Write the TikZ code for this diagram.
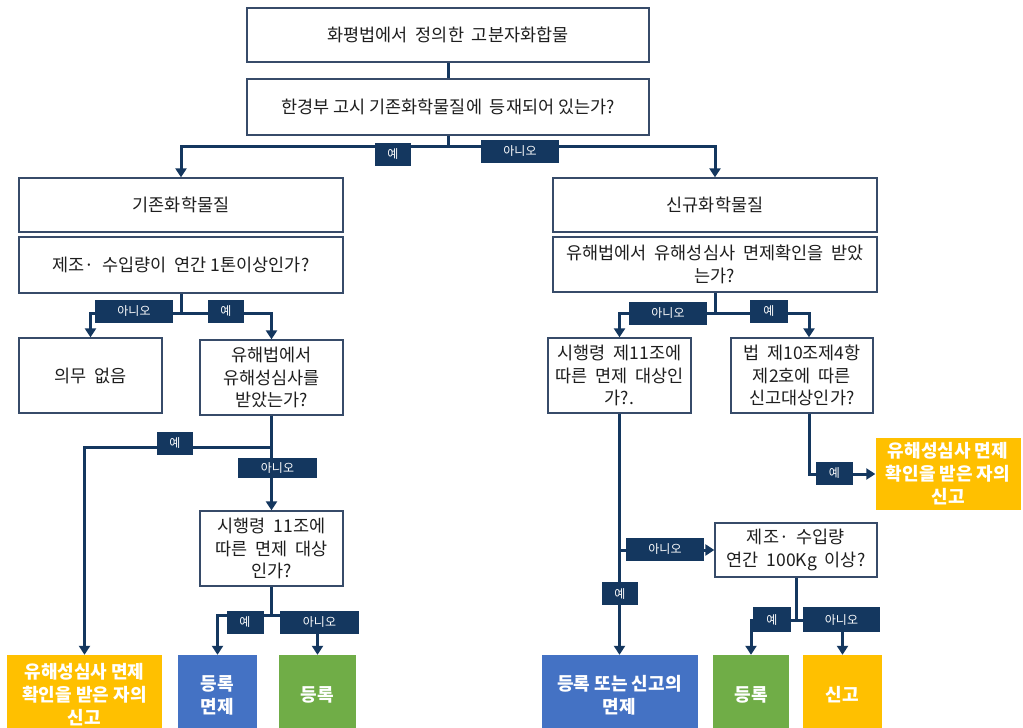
\documentclass[tikz,border=0pt]{standalone}
\usepackage{fontspec}
\setmainfont{Noto Sans CJK KR}
\usetikzlibrary{arrows.meta}
\definecolor{navy}{RGB}{20,55,95}
\definecolor{bordc}{RGB}{55,75,105}
\definecolor{txtc}{RGB}{30,30,30}
\definecolor{byel}{RGB}{255,192,0}
\definecolor{bblue}{RGB}{68,114,196}
\definecolor{bgreen}{RGB}{112,173,71}
\begin{document}
\begin{tikzpicture}[x=1pt,y=-1pt,
 wbox/.style={draw=bordc,line width=1.3pt,fill=white,text=txtc,font=\fontsize{17.5}{22.5}\selectfont,align=center,inner sep=0pt},
 cbox/.style={fill=#1,text=white,font=\bfseries\fontsize{18}{23}\selectfont,align=center,inner sep=0pt},
 lab/.style={fill=navy,text=white,font=\fontsize{12}{12}\selectfont,inner sep=0pt,minimum height=23pt},
 conn/.style={draw=navy,line width=3pt},
 arr/.style={conn,-{Triangle[width=11pt,length=9pt]}},
]
\useasboundingbox (0,0) rectangle (1023,728);
\clip (0,0) rectangle (1023,728);
\fill[white] (0,0) rectangle (1023,728);

% white boxes
\node[wbox,minimum width=402pt,minimum height=54pt] (top) at (448,35) {화평법에서 \ 정의한 \ 고분자화합물};
\node[wbox,minimum width=402pt,minimum height=56pt] (q1) at (448,107) {한경부 고시 기존화학물질에 \ 등재되어 있는가?};
\node[wbox,minimum width=324pt,minimum height=54pt] (exist) at (181,205) {기존화학물질};
\node[wbox,minimum width=324pt,minimum height=56pt] (q2) at (181,265) {제조· \ 수입량이 \ 연간 1톤이상인가?};
\node[wbox,minimum width=143pt,minimum height=75pt] (none) at (90.5,375.5) {의무 \ 없음};
\node[wbox,minimum width=143pt,minimum height=75pt] (q3) at (271.5,377.5) {유해법에서\\유해성심사를\\받았는가?};
\node[wbox,minimum width=143pt,minimum height=75pt] (q4) at (271.5,548.5) {시행령 \ 11조에\\따른 \ 면제 \ 대상\\인가?};
\node[wbox,minimum width=324pt,minimum height=54pt] (new) at (715,205) {신규화학물질};
\node[wbox,minimum width=324pt,minimum height=55pt] (q5) at (715,264.5) {유해법에서 \ 유해성심사 \ 면제확인을 \ 받았\\는가?};
\node[wbox,minimum width=143pt,minimum height=75pt] (q6) at (619.5,375.5) {시행령 \ 제11조에\\따른 \ 면제 \ 대상인\\가?.};
\node[wbox,minimum width=142pt,minimum height=75pt] (q7) at (802,375.5) {법 \ 제10조제4항\\제2호에 \ 따른\\신고대상인가?};
\node[wbox,minimum width=162pt,minimum height=54pt] (q8) at (796,550) {제조· \ 수입량\\연간 \ 100Kg \ 이상?};

% coloured result boxes
\node[cbox=byel,minimum width=155pt,minimum height=80pt] (yl) at (84.5,695) {유해성심사 면제\\확인을 받은 자의\\신고};
\node[cbox=bblue,minimum width=79pt,minimum height=80pt] (bl) at (217.5,695) {등록\\면제};
\node[cbox=bgreen,minimum width=77pt,minimum height=80pt] (gl) at (317.5,695) {등록};
\node[cbox=byel,minimum width=145pt,minimum height=72pt] (yr) at (948,474) {유해성심사 면제\\확인을 받은 자의\\신고};
\node[cbox=bblue,minimum width=156pt,minimum height=80pt] (br) at (619.5,695) {등록 또는 신고의\\면제};
\node[cbox=bgreen,minimum width=76pt,minimum height=80pt] (gr) at (751,695) {등록};
\node[cbox=byel,minimum width=79pt,minimum height=80pt] (yr2) at (842.5,695) {신고};

% branch points
\coordinate (b1) at (448,146);
\coordinate (b2) at (181,313);
\coordinate (b3) at (271.5,447);
\coordinate (b4) at (271.5,615);
\coordinate (b5) at (715,313);
\coordinate (b6) at (809,474);
\coordinate (b7) at (619.5,550);
\coordinate (b8) at (796,620);

% connectors
\draw[conn] (top.south) -- (q1.north);
\draw[conn] (q1.south) -- (b1);
\draw[arr] (b1) -| (exist.north);
\draw[arr] (b1) -| (new.north);

\draw[conn] (q2.south) -- (b2);
\draw[arr] (b2) -| (none.north);
\draw[arr] (b2) -| (q3.north);

\draw[conn] (q3.south) -- (b3);
\draw[arr] (b3) -| (yl.north);
\draw[arr] (b3) -- (q4.north);

\draw[conn] (q4.south) -- (b4);
\draw[arr] (b4) -| (bl.north);
\draw[arr] (b4) -| (gl.north);

\draw[conn] (q5.south) -- (b5);
\draw[arr] (b5) -| (q6.north);
\draw[arr] (b5) -| ([xshift=7pt]q7.north);

\draw[arr] ([xshift=7pt]q7.south) -- (b6) -- (yr.west);

\draw[arr] (q6.south) -- (br.north);
\draw[arr] (b7) -- (q8.west);

\draw[conn] (q8.south) -- (b8);
\draw[arr] (b8) -| (gr.north);
\draw[arr] (b8) -| (yr2.north);

% labels
\node[lab,minimum width=36pt] (l1) at (393,154.5) {예};
\node[lab,minimum width=78pt] (l2) at (520,151.5) {아니오};
\node[lab,minimum width=78pt] (l3) at (134,311.5) {아니오};
\node[lab,minimum width=36pt] (l4) at (226,311.5) {예};
\node[lab,minimum width=36pt] (l5) at (175,443.5) {예};
\node[lab,minimum width=79pt,minimum height=20pt] (l6) at (277.5,468) {아니오};
\node[lab,minimum width=37pt] (l7) at (245,622) {예};
\node[lab,minimum width=79pt] (l8) at (319.5,622) {아니오};
\node[lab,minimum width=78pt] (l9) at (668,313) {아니오};
\node[lab,minimum width=38pt] (l10) at (769,311) {예};
\node[lab,minimum width=37pt] (l11) at (834.5,473) {예};
\node[lab,minimum width=78pt] (l12) at (665,549.5) {아니오};
\node[lab,minimum width=36pt] (l13) at (620,593.5) {예};
\node[lab,minimum width=38pt,minimum height=25pt] (l14) at (772,619.5) {예};
\node[lab,minimum width=77pt,minimum height=25pt] (l15) at (841.5,619.5) {아니오};
\end{tikzpicture}
\end{document}
